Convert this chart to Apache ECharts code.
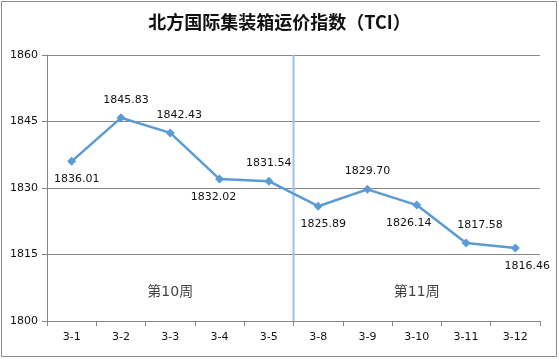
<!DOCTYPE html>
<html><head><meta charset="utf-8">
<script src="https://cdn.jsdelivr.net/npm/echarts@6/dist/echarts.min.js"></script>
<style>html,body{margin:0;padding:0;background:#fff}#c{width:559px;height:359px}</style>
</head><body><div id="c"></div>
<script>
const categories = ['3-1','3-2','3-3','3-4','3-5','3-8','3-9','3-10','3-11','3-12'];
const values = [1836.01,1845.83,1842.43,1832.02,1831.54,1825.89,1829.70,1826.14,1817.58,1816.46];
const labelPos = ['bottom','top','top','bottom','top','bottom','top','bottom','top','bottom'];
const labelShift = [5,5,9,-6,0,5,0,-8,14,12];
const yTicks = [1800,1815,1830,1845,1860];
const weekLabels = [{name:'第10周', x:2.5, y:1804}, {name:'第11周', x:7.5, y:1804}];
const separatorX = 5;

const font = '"DejaVu Sans", sans-serif';
const cjk = '"DejaVu Sans", "Noto Sans CJK SC", sans-serif';
const chart = echarts.init(document.getElementById('c'), null, {renderer:'canvas'});
chart.setOption({
  animation:false,
  backgroundColor:'#fff',
  graphic:[{type:'rect', shape:{x:1.5,y:1.5,width:555,height:355}, style:{fill:'none', stroke:'#8c8c8c', lineWidth:1}, silent:true}],
  title:{text:'北方国际集装箱运价指数（TCI）', left:'center', top:8,
    textStyle:{fontFamily:'"Noto Sans CJK SC", sans-serif', fontSize:18, fontWeight:'bold', color:'#111'}},
  grid:{left:47, right:19, top:55, bottom:38},
  xAxis:[{type:'category', data:categories, boundaryGap:true,
    axisLine:{lineStyle:{color:'#868686', width:1}},
    axisTick:{show:true, alignWithLabel:false, length:5, lineStyle:{color:'#868686'}},
    axisLabel:{color:'#111', fontFamily:font, fontSize:11, margin:11},
    splitLine:{show:false}},
   {type:'value', min:0, max:10, show:false}],
  yAxis:{type:'value', min:yTicks[0], max:yTicks[yTicks.length-1], interval:15,
    axisLine:{show:true, lineStyle:{color:'#868686'}},
    axisTick:{show:true, length:5, lineStyle:{color:'#868686'}},
    axisLabel:{color:'#111', fontFamily:font, fontSize:11, margin:9, formatter:v=>String(v)},
    splitLine:{lineStyle:{color:'#868686', width:1}}},
  series:[
    {type:'line', xAxisIndex:1, data:[[separatorX,yTicks[0]],[separatorX,yTicks[yTicks.length-1]]],
      symbol:'none', lineStyle:{color:'#9dc3e6', width:2}, z:1, silent:true},
    {type:'line', xAxisIndex:0, data:values.map((v,i)=>({value:v, label:{position:labelPos[i], offset:[labelShift[i],0]}})),
      symbol:'diamond', symbolSize:9, itemStyle:{color:'#5b9bd5'},
      lineStyle:{color:'#5b9bd5', width:2.5}, z:3,
      label:{show:true, color:'#111', fontFamily:font, fontSize:11, distance:8,
        formatter:p=>p.value.toFixed(2)}},
    {type:'scatter', xAxisIndex:1, symbolSize:0,
      data:weekLabels.map(w=>({value:[w.x,w.y], name:w.name})),
      label:{show:true, position:'top', distance:4, formatter:p=>p.name, color:'#111', fontFamily:cjk, fontSize:14}}
  ]
});
</script></body></html>
